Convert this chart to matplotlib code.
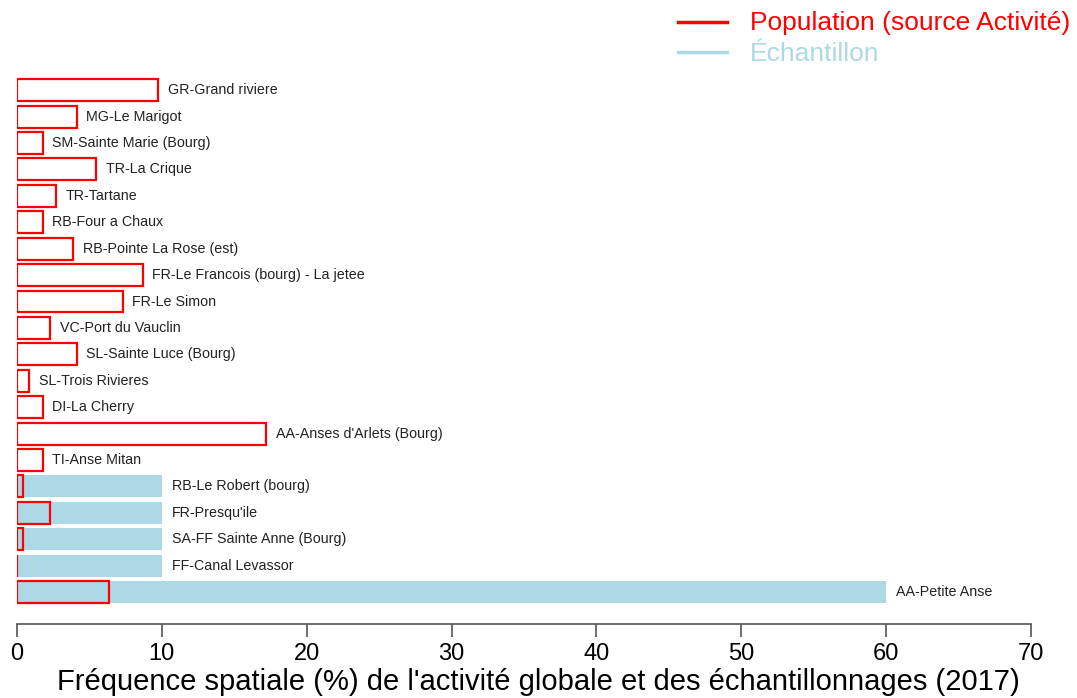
import matplotlib
matplotlib.use("Agg")
import matplotlib.pyplot as plt
from matplotlib.lines import Line2D

sites = ["GR-Grand riviere", "MG-Le Marigot", "SM-Sainte Marie (Bourg)", "TR-La Crique",
         "TR-Tartane", "RB-Four a Chaux", "RB-Pointe La Rose (est)",
         "FR-Le Francois (bourg) - La jetee", "FR-Le Simon", "VC-Port du Vauclin",
         "SL-Sainte Luce (Bourg)", "SL-Trois Rivieres", "DI-La Cherry",
         "AA-Anses d'Arlets (Bourg)", "TI-Anse Mitan", "RB-Le Robert (bourg)",
         "FR-Presqu'ile", "SA-FF Sainte Anne (Bourg)", "FF-Canal Levassor", "AA-Petite Anse"]
population = [9.76, 4.12, 1.77, 5.46, 2.69, 1.77, 3.89, 8.68, 7.30, 2.28,
              4.12, 0.85, 1.77, 17.2, 1.77, 0.41, 2.28, 0.41, 0.03, 6.38]
echantillon = [0, 0, 0, 0, 0, 0, 0, 0, 0, 0,
               0, 0, 0, 0, 0, 10, 10, 10, 10, 60]
xticks = [0, 10, 20, 30, 40, 50, 60, 70]
xlabel = "Fréquence spatiale (%) de l'activité globale et des échantillonnages (2017)"
legend_labels = ["Population (source Activité)", "Échantillon"]

plt.rcParams['font.family'] = ['Liberation Sans', 'DejaVu Sans']

RED = "#ff0000"
BLUE = "#add8e6"
W, H = 1077, 698

fig = plt.figure(figsize=(10.77, 6.98), dpi=100)
ax_bottom_px, ax_top_px = 624, 77
ax = fig.add_axes([17/W, 1-ax_bottom_px/H, (1031-17)/W, (ax_bottom_px-ax_top_px)/H])

n = len(sites)
ys = [n - 1 - i for i in range(n)]
h = 0.83
ax.barh(ys, echantillon, height=h, color=BLUE, edgecolor='none', zorder=1)
ax.barh(ys, population, height=h, facecolor='none', edgecolor=RED, linewidth=1.6, zorder=2)

for y, s, p, e in zip(ys, sites, population, echantillon):
    ax.annotate(s, xy=(max(p, e), y), xytext=(7, 0), textcoords='offset points',
                ha='left', va='center', fontsize=10.3, color='#222222')

ax.set_xlim(0, 70)
ax.set_ylim(-1.21, n - 0.5)
for side in ['top', 'right', 'left']:
    ax.spines[side].set_visible(False)
ax.spines['bottom'].set_color('#555555')
ax.spines['bottom'].set_linewidth(1.2)
ax.set_yticks([])
ax.set_xticks(xticks)
ax.tick_params(axis='x', length=9, width=1.2, color='#555555', pad=4.5, labelsize=17,
               labelcolor='black')
ax.set_xlabel(xlabel, fontsize=21, va='center')
ax.xaxis.set_label_coords((538-17)/1014, -(682-ax_bottom_px)/(ax_bottom_px-ax_top_px))

# legend
for yy, col in [(1-22/H, RED), (1-52/H, BLUE)]:
    fig.add_artist(Line2D([678/W, 727/W], [yy, yy], color=col, linewidth=2.5,
                          transform=fig.transFigure))
fig.text(750/W, 1-23/H, legend_labels[0], color=RED, fontsize=19, va='center', ha='left')
fig.text(750/W, 1-54/H, legend_labels[1], color=BLUE, fontsize=19, va='center', ha='left')

fig.savefig("out.png", dpi=100)
